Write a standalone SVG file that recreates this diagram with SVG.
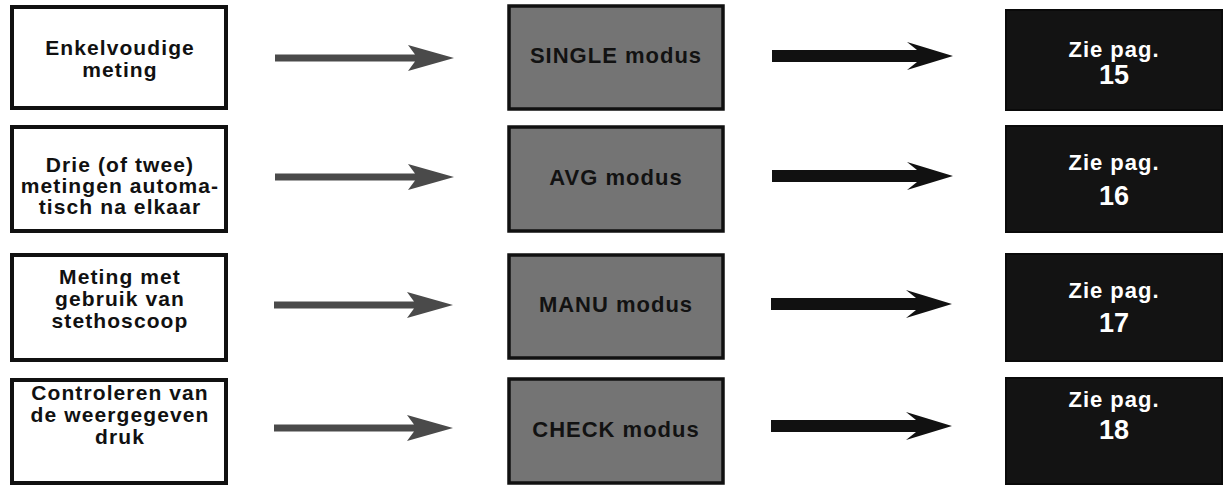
<svg xmlns="http://www.w3.org/2000/svg" width="1224" height="488" viewBox="0 0 1224 488">
<style>
.in rect{fill:#fff;stroke:#111;stroke-width:4}
.in text{font-family:"Liberation Sans",Arial,sans-serif;font-weight:bold;font-size:21px;letter-spacing:1.1px;fill:#111;text-anchor:middle}
.mode rect{fill:#747474;stroke:#111;stroke-width:3.5}
.mode text{font-family:"Liberation Sans",Arial,sans-serif;font-weight:bold;font-size:22px;letter-spacing:1px;fill:#121212;text-anchor:middle}
.page rect{fill:#131313;stroke:#0a0a0a;stroke-width:2}
.page text{font-family:"Liberation Sans",Arial,sans-serif;font-weight:bold;fill:#fff;text-anchor:middle}
.page .z{font-size:22px;letter-spacing:1px}
.page .n{font-size:27px}
.a1{fill:#4a4a4a}
.a2{fill:#111}
</style>
<defs>
<polygon id="arrowL" points="0,-3.5 140,-3.5 133,-13 179,0 133,13 140,3.5 0,3.5"/>
<polygon id="arrowR" points="0,-6 145,-6 135,-14 181,0 135,14 145,6 0,6"/>
</defs>

<g id="in1" class="in"><rect x="12" y="7" width="214" height="101"/>
<text x="120" y="55">Enkelvoudige</text><text x="120" y="77">meting</text></g>
<g id="in2" class="in"><rect x="12" y="127" width="214" height="104"/>
<text x="120" y="172">Drie (of twee)</text><text x="120" y="193">metingen automa-</text><text x="120" y="214">tisch na elkaar</text></g>
<g id="in3" class="in"><rect x="12" y="255" width="214" height="105"/>
<text x="120" y="284">Meting met</text><text x="120" y="306">gebruik van</text><text x="120" y="328">stethoscoop</text></g>
<g id="in4" class="in"><rect x="12" y="380" width="214" height="103"/>
<text x="120" y="400">Controleren van</text><text x="120" y="422">de weergegeven</text><text x="120" y="444">druk</text></g>

<g id="mode1" class="mode"><rect x="509" y="6" width="214" height="103"/><text x="616" y="63">SINGLE modus</text></g>
<g id="mode2" class="mode"><rect x="509" y="127" width="214" height="104"/><text x="616" y="185">AVG modus</text></g>
<g id="mode3" class="mode"><rect x="509" y="255" width="214" height="103"/><text x="616" y="312">MANU modus</text></g>
<g id="mode4" class="mode"><rect x="509" y="379" width="214" height="104"/><text x="616" y="437">CHECK modus</text></g>

<g id="page1" class="page"><rect x="1006" y="10" width="216" height="100"/><text class="z" x="1114" y="57">Zie pag.</text><text class="n" x="1114" y="84">15</text></g>
<g id="page2" class="page"><rect x="1006" y="126" width="216" height="106"/><text class="z" x="1114" y="170">Zie pag.</text><text class="n" x="1114" y="205">16</text></g>
<g id="page3" class="page"><rect x="1006" y="254" width="216" height="107"/><text class="z" x="1114" y="298">Zie pag.</text><text class="n" x="1114" y="332">17</text></g>
<g id="page4" class="page"><rect x="1006" y="378" width="216" height="106"/><text class="z" x="1114" y="407">Zie pag.</text><text class="n" x="1114" y="439">18</text></g>

<g id="connectors">
<use href="#arrowL" class="a1" x="275" y="58"/>
<use href="#arrowL" class="a1" x="275" y="177"/>
<use href="#arrowL" class="a1" x="274" y="305"/>
<use href="#arrowL" class="a1" x="274" y="428"/>
<use href="#arrowR" class="a2" x="772" y="56"/>
<use href="#arrowR" class="a2" x="772" y="176"/>
<use href="#arrowR" class="a2" x="771" y="304"/>
<use href="#arrowR" class="a2" x="771" y="426"/>
</g>
</svg>
